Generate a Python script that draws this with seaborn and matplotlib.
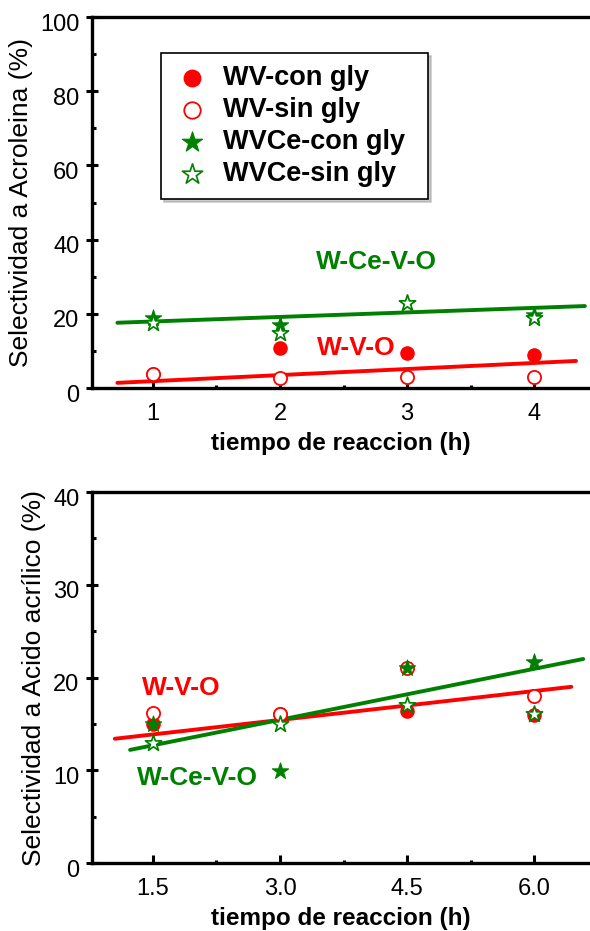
import seaborn as sns
import matplotlib
matplotlib.use('Agg')
from matplotlib import pyplot as plt
from matplotlib.ticker import AutoMinorLocator, FixedLocator
from matplotlib.transforms import ScaledTranslation

# datos
tiempo_top = [1, 2, 3, 4]
wv_con_top = [3.8, 10.8, 9.5, 8.9]
wv_sin_top = [3.8, 2.8, 3.1, 3.1]
wvce_con_top = [18.8, 17.0, 23.0, 19.7]
wvce_sin_top = [17.5, 14.9, 23.0, 19.0]
fit_wvce_top_x = [0.72, 4.40]
fit_wvce_top_y = [17.6, 22.1]
fit_wv_top_x = [0.72, 4.33]
fit_wv_top_y = [1.4, 7.3]

tiempo_bot = [1.5, 3.0, 4.5, 6.0]
wv_con_bot = [15.0, 16.1, 16.4, 16.0]
wv_sin_bot = [16.2, 16.1, 21.0, 18.0]
wvce_con_bot = [15.0, 9.9, 21.0, 21.7]
wvce_sin_bot = [12.9, 15.0, 17.0, 16.1]
fit_wv_bot_x = [1.05, 6.44]
fit_wv_bot_y = [13.4, 19.0]
fit_wvce_bot_x = [1.23, 6.58]
fit_wvce_bot_y = [12.2, 22.0]

labels = ['WV-con gly', 'WV-sin gly', 'WVCe-con gly', 'WVCe-sin gly']
xticks_top = [1, 2, 3, 4]
xticks_bot = [1.5, 3.0, 4.5, 6.0]
xticklabels_bot = ['1.5', '3.0', '4.5', '6.0']

RED = '#ff0000'
GREEN = '#008000'

sns.set_style('ticks')
plt.rcParams['font.family'] = ['Liberation Sans', 'DejaVu Sans']
plt.rcParams['text.color'] = 'black'
plt.rcParams['axes.labelcolor'] = 'black'
plt.rcParams['xtick.color'] = 'black'
plt.rcParams['ytick.color'] = 'black'

fig = plt.figure(figsize=(5.9, 9.31), dpi=100)
ax1 = fig.add_axes([0.1559, 0.5832, 0.8441, 0.3985])
ax2 = fig.add_axes([0.1559, 0.0730, 0.8441, 0.3985])


def draw_panel(ax, x, wv_con, wv_sin, wvce_con, wvce_sin, fits):
    for fx, fy, col in fits:
        sns.lineplot(x=fx, y=fy, color=col, linewidth=2.8, ax=ax, zorder=2)
    sns.scatterplot(x=x, y=wv_con, marker='o', s=90, color=RED,
                    edgecolor=RED, linewidth=1, ax=ax, label=labels[0], zorder=3)
    sns.scatterplot(x=x, y=wv_sin, marker='o', s=90, facecolor='white',
                    edgecolor=RED, linewidth=1.3, ax=ax, label=labels[1], zorder=4)
    sns.scatterplot(x=x, y=wvce_con, marker='*', s=150, color=GREEN,
                    edgecolor=GREEN, linewidth=0.8, ax=ax, label=labels[2], zorder=5)
    sns.scatterplot(x=x, y=wvce_sin, marker='*', s=150, facecolor='white',
                    edgecolor=GREEN, linewidth=1.2, ax=ax, label=labels[3], zorder=6)


draw_panel(ax1, tiempo_top, wv_con_top, wv_sin_top, wvce_con_top, wvce_sin_top,
           [(fit_wv_top_x, fit_wv_top_y, RED), (fit_wvce_top_x, fit_wvce_top_y, GREEN)])
draw_panel(ax2, tiempo_bot, wv_con_bot, wv_sin_bot, wvce_con_bot, wvce_sin_bot,
           [(fit_wv_bot_x, fit_wv_bot_y, RED), (fit_wvce_bot_x, fit_wvce_bot_y, GREEN)])

ax1.set_xlim(0.52, 4.44)
ax1.set_ylim(0, 100)
ax1.xaxis.set_major_locator(FixedLocator(xticks_top))
ax1.set_yticks([0, 20, 40, 60, 80, 100])
ax2.set_xlim(0.78, 6.66)
ax2.set_ylim(0, 40)
ax2.set_xticks(xticks_bot)
ax2.set_xticklabels(xticklabels_bot)
ax2.set_yticks([0, 10, 20, 30, 40])

ax1.set_ylabel('Selectividad a Acroleina (%)', fontsize=19, labelpad=5)
ax2.set_ylabel('Selectividad a Acido acrílico (%)', fontsize=19, labelpad=5)

shift = ScaledTranslation(0, -5 / 100, fig.dpi_scale_trans)
for ax in (ax1, ax2):
    ax.set_xlabel('tiempo de reaccion (h)', fontsize=17.5, fontweight='bold', labelpad=5)
    ax.xaxis.set_minor_locator(AutoMinorLocator(2))
    ax.yaxis.set_minor_locator(AutoMinorLocator(2))
    ax.tick_params(axis='x', which='major', direction='in', length=6, width=2.2,
                   labelsize=17, pad=11)
    ax.tick_params(axis='x', which='minor', direction='in', length=2.5, width=2.2)
    ax.tick_params(axis='y', which='major', direction='inout', length=8, width=2.2,
                   labelsize=17, pad=5)
    ax.tick_params(axis='y', which='minor', direction='in', length=3, width=2.2)
    for side in ('left', 'bottom', 'top'):
        ax.spines[side].set_linewidth(2.4)
        ax.spines[side].set_color('black')
    ax.spines['right'].set_visible(False)
    for lab in ax.get_yticklabels():
        lab.set_transform(lab.get_transform() + shift)

ax1.text(2.76, 34, 'W-Ce-V-O', color=GREEN, fontsize=19, fontweight='bold',
         ha='center', va='center')
ax1.text(2.6, 10.8, 'W-V-O', color=RED, fontsize=19, fontweight='bold',
         ha='center', va='center')
ax2.text(1.84, 18.9, 'W-V-O', color=RED, fontsize=19, fontweight='bold',
         ha='center', va='center')
ax2.text(2.02, 9.2, 'W-Ce-V-O', color=GREEN, fontsize=19, fontweight='bold',
         ha='center', va='center')

if ax2.get_legend() is not None:
    ax2.get_legend().remove()
leg = ax1.legend(loc='upper left', bbox_to_anchor=(0.1386, 0.903 - 0.39, 0.536, 0.39),
                 mode='expand', frameon=True, fancybox=False, framealpha=1,
                 edgecolor='black', shadow={'color': '0.6'}, markerscale=1.25,
                 borderpad=0.45, labelspacing=0.22, handlelength=1.4,
                 handletextpad=0.45, borderaxespad=0,
                 prop={'size': 19.5, 'weight': 'bold'})
leg.get_frame().set_linewidth(1.2)

fig.savefig('out.png', dpi=100)
plt.close(fig)
